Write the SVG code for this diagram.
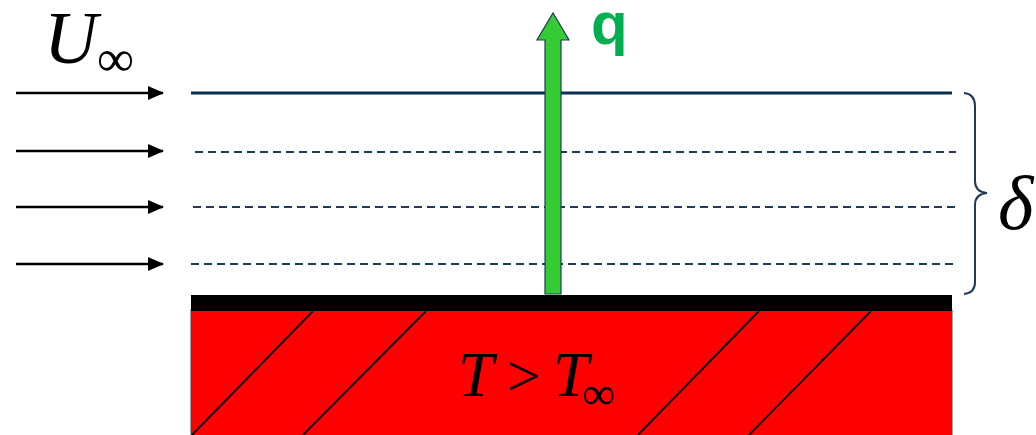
<svg xmlns="http://www.w3.org/2000/svg" width="1036" height="435" viewBox="0 0 1036 435">
<defs>
<style>
.flow{stroke:#000;stroke-width:2.5;fill:none}
.dash{stroke:#1f3a5a;stroke-width:1.8;stroke-dasharray:8 5;fill:none}
.hatch{stroke:#000;stroke-width:1.8;fill:none}
.math{font-family:"Liberation Serif",serif;font-style:italic;fill:#000}
.sym{font-family:"Liberation Serif",serif;fill:#000}
</style>
<marker id="ah" viewBox="0 0 16 14" refX="15" refY="7" markerWidth="16" markerHeight="14" markerUnits="userSpaceOnUse" orient="auto">
<path d="M0,0 L16,7 L0,14 Z" fill="#000"/>
</marker>
</defs>
<rect width="1036" height="435" fill="#fff"/>
<g id="wall">
<rect x="191" y="310" width="761" height="130" fill="#ff0000" stroke="#3a4a5a" stroke-width="1"/>
<rect x="191" y="295" width="761" height="16" fill="#000"/>
<line class="hatch" x1="192" y1="435" x2="313" y2="311"/>
<line class="hatch" x1="303" y1="435" x2="426" y2="311"/>
<line class="hatch" x1="638" y1="435" x2="759" y2="311"/>
<line class="hatch" x1="749" y1="435" x2="871" y2="311"/>
<text class="math" x="458" y="396" font-size="64">T</text>
<text class="sym" x="507" y="396" font-size="60">&gt;</text>
<text class="math" x="553" y="396" font-size="64">T</text>
<text class="sym" x="582" y="409" font-size="46">∞</text>
</g>
<g id="edge-lines">
<line x1="191" y1="93" x2="952" y2="93" stroke="#0d2d4d" stroke-width="3"/>
<line class="dash" x1="195" y1="152" x2="956" y2="152"/>
<line class="dash" x1="193" y1="207" x2="956" y2="207"/>
<line class="dash" x1="191" y1="264" x2="954" y2="264"/>
</g>
<g id="connectors">
<line class="flow" x1="16" y1="93" x2="163" y2="93" marker-end="url(#ah)"/>
<line class="flow" x1="16" y1="151" x2="163" y2="151" marker-end="url(#ah)"/>
<line class="flow" x1="16" y1="207" x2="163" y2="207" marker-end="url(#ah)"/>
<line class="flow" x1="16" y1="264" x2="163" y2="264" marker-end="url(#ah)"/>
</g>
<g id="freestream">
<text class="math" x="44" y="63" font-size="74">U</text>
<text class="sym" x="97" y="76" font-size="52">∞</text>
</g>
<g id="heat-flux">
<path d="M545,294 L545,40 L537,40 L553,13 L569,40 L561,40 L561,294 Z" fill="#33cc33" stroke="#1f3a5a" stroke-width="1.2"/>
<text x="591" y="44" font-family="Liberation Sans,Arial,sans-serif" font-weight="bold" font-size="60" fill="#00b050">q</text>
</g>
<g id="thickness">
<path d="M964,93 Q975,94 975,106 L975,181 Q975,192 987,193 Q975,194 975,205 L975,282 Q975,293 964,294" fill="none" stroke="#1f3a5a" stroke-width="2"/>
<text class="math" x="998" y="229" font-size="76">δ</text>
</g>
</svg>
